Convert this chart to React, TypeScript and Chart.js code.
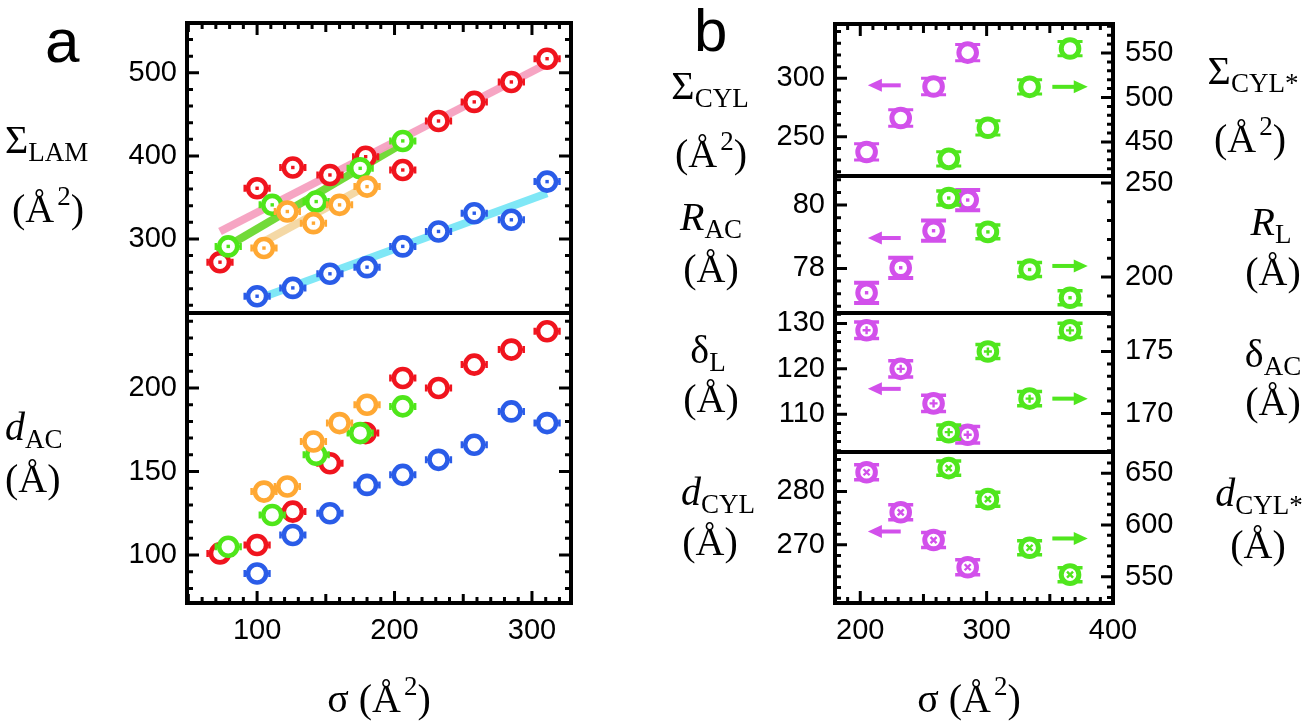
import React, { useEffect, useRef } from 'react';
import { Chart, registerables } from 'chart.js';

Chart.register(...registerables);

/* ---------------- panel a : x = sigma (Å²) ---------------- */
const aSigmaRed = [73, 100, 126, 153, 179, 206, 232, 258, 285, 311];
const aSigmaGreen = [79, 111, 143, 175, 206];
const aSigmaOrange = [105, 122, 141, 160, 180];
const aSigmaBlue = [100, 126, 153, 180, 206, 232, 258, 285, 311];

const sigmaLamRed = [272, 361, 386, 377, 399, 383, 442, 465, 489, 517];
const sigmaLamGreen = [291, 341, 345, 385, 418];
const sigmaLamOrange = [289, 333, 319, 341, 363];
const sigmaLamBlue = [231, 241, 258, 266, 291, 309, 331, 323, 369];

const dAcRed = [101, 106, 126, 155, 173, 206, 200, 214, 223, 234];
const dAcGreen = [105, 124, 160, 173, 189];
const dAcOrange = [138, 141, 168, 179, 190];
const dAcBlue = [89, 112, 125, 142, 148, 157, 166, 186, 179];

const sigmaErrA = 9;

const fitRedX = [73, 311];
const fitRedY = [309, 511];
const fitGreenX = [71, 210];
const fitGreenY = [284, 419];
const fitOrangeX = [103, 181];
const fitOrangeY = [295, 365];
const fitBlueX = [101, 311];
const fitBlueY = [228, 355];

const aXTicks = [100, 200, 300];
const sigmaLamTicks = [300, 400, 500];
const dAcTicks = [100, 150, 200];

/* ---------------- panel b ---------------- */
const bSigmaMag = [205, 232, 258, 285];
const bSigmaGreen = [270, 301, 334, 366];

const sigmaCylMag = [237, 266, 293, 322];
const sigmaCylStarGreen = [431, 466, 512, 555];
const rAcMag = [77.23, 78.02, 79.19, 80.16];
const rLGreen = [242, 224, 204, 189];
const deltaLMag = [128.5, 120, 112.4, 105.5];
const deltaAcGreen = [168.5, 175, 171.2, 176.7];
const dCylMag = [283.6, 276.1, 270.9, 265.8];
const dCylStarGreen = [655, 625, 578, 552];

const errMag = [7, 0.32, 1.8, 1.4];
const errGreen = [8, 3.7, 0.57, 6.8];

const arrowMagX = [206, 232];
const arrowGreenX = [352, 380];
const arrowMagY = [294, 78.96, 115.6, 272.5];
const arrowGreenY = [512, 205.9, 171.2, 587];

const bXTicks = [200, 300, 400];
const sigmaCylTicks = [250, 300];
const sigmaCylStarTicks = [450, 500, 550];
const rAcTicks = [78, 80];
const rLTicks = [200, 250];
const deltaLTicks = [110, 120, 130];
const deltaAcTicks = [170, 175];
const dCylTicks = [270, 280];
const dCylStarTicks = [550, 600, 650];

/* ---------------- styling ---------------- */
const RED = '#f0141e';
const GREEN = '#4fe61a';
const ORANGE = '#ffa833';
const BLUE = '#2a5ce8';
const MAG = '#d250eb';
const GREENB = '#50e61e';

const PAD_L = 100;
const PAD_T = 14;
const PAD_R = 14;
const PAD_R2 = 100;
const PAD_B = 14;
const PAD_BX = 70;

const TICK_FONT = { family: "'Liberation Sans', Arial, sans-serif", size: 29 };

type Mark = 'none' | 'dot' | 'plus' | 'x';
interface Series {
  x: number[]; y: number[]; color: string; axis: 'y' | 'y2';
  err: number; dir: 'x' | 'y'; mark: Mark; order: number;
  r: number; bw: number; capW: number; capT: number;
}
interface Fit { x: number[]; y: number[]; color: string; }
interface Arrow { x: number[]; y: number; color: string; axis: 'y' | 'y2'; dir: 'left' | 'right'; }
interface Axis { min: number; max: number; major: number[]; minor: number; mid?: number; }
interface Panel {
  frame: number[];
  x: Axis; y: Axis; y2?: Axis;
  xLabels: boolean; topTicks: boolean; bottomTicks: boolean;
  series: Series[]; fits: Fit[]; arrows: Arrow[];
}

const aSer = (x: number[], y: number[], color: string, order: number, mark: Mark): Series => ({
  x, y, color, axis: 'y', err: sigmaErrA, dir: 'x', mark, order, r: 9, bw: 4.6, capW: 7, capT: 2.5,
});
const bSer = (x: number[], y: number[], color: string, axis: 'y' | 'y2', err: number, order: number, mark: Mark, capT: number): Series => ({
  x, y, color, axis, err, dir: 'y', mark, order, r: 8.8, bw: 5, capW: 25, capT,
});

const AX_A: Axis = { min: 49, max: 328.4, major: aXTicks, minor: 10, mid: 50 };
const AX_B: Axis = { min: 180, max: 400, major: bXTicks, minor: 10, mid: 50 };

const PANELS: Panel[] = [
  {
    frame: [187, 23, 571, 313],
    x: AX_A,
    y: { min: 210.8, max: 560, major: sigmaLamTicks, minor: 20 },
    xLabels: false, topTicks: true, bottomTicks: false,
    fits: [
      { x: fitRedX, y: fitRedY, color: 'rgba(246,160,192,0.95)' },
      { x: fitGreenX, y: fitGreenY, color: 'rgba(106,216,46,0.95)' },
      { x: fitOrangeX, y: fitOrangeY, color: 'rgba(243,214,160,0.95)' },
      { x: fitBlueX, y: fitBlueY, color: 'rgba(120,230,245,0.95)' },
    ],
    series: [
      aSer(aSigmaOrange, sigmaLamOrange, ORANGE, 1, 'dot'),
      aSer(aSigmaGreen, sigmaLamGreen, GREEN, 2, 'dot'),
      aSer(aSigmaRed, sigmaLamRed, RED, 3, 'dot'),
      aSer(aSigmaBlue, sigmaLamBlue, BLUE, 4, 'dot'),
    ],
    arrows: [],
  },
  {
    frame: [187, 313, 571, 603],
    x: AX_A,
    y: { min: 71.3, max: 244.9, major: dAcTicks, minor: 10 },
    xLabels: true, topTicks: false, bottomTicks: true,
    fits: [],
    series: [
      aSer(aSigmaOrange, dAcOrange, ORANGE, 1, 'none'),
      aSer(aSigmaGreen, dAcGreen, GREEN, 2, 'none'),
      aSer(aSigmaRed, dAcRed, RED, 3, 'none'),
      aSer(aSigmaBlue, dAcBlue, BLUE, 4, 'none'),
    ],
    arrows: [],
  },
  {
    frame: [835, 24, 1113, 176],
    x: AX_B,
    y: { min: 216.4, max: 346.5, major: sigmaCylTicks, minor: 10 },
    y2: { min: 411.8, max: 582.6, major: sigmaCylStarTicks, minor: 10 },
    xLabels: false, topTicks: true, bottomTicks: false,
    fits: [],
    series: [
      bSer(bSigmaGreen, sigmaCylStarGreen, GREENB, 'y2', errGreen[0], 1, 'none', 3),
      bSer(bSigmaMag, sigmaCylMag, MAG, 'y', errMag[0], 2, 'none', 3),
    ],
    arrows: [
      { x: arrowMagX, y: arrowMagY[0], color: MAG, axis: 'y', dir: 'left' },
      { x: arrowGreenX, y: arrowGreenY[0], color: GREENB, axis: 'y2', dir: 'right' },
    ],
  },
  {
    frame: [835, 176, 1113, 313],
    x: AX_B,
    y: { min: 76.59, max: 80.92, major: rAcTicks, minor: 0.4 },
    y2: { min: 180.9, max: 253.7, major: rLTicks, minor: 10 },
    xLabels: false, topTicks: false, bottomTicks: false,
    fits: [],
    series: [
      bSer(bSigmaGreen, rLGreen, GREENB, 'y2', errGreen[1], 1, 'dot', 3.5),
      bSer(bSigmaMag, rAcMag, MAG, 'y', errMag[1], 2, 'dot', 4),
    ],
    arrows: [
      { x: arrowMagX, y: arrowMagY[1], color: MAG, axis: 'y', dir: 'left' },
      { x: arrowGreenX, y: arrowGreenY[1], color: GREENB, axis: 'y2', dir: 'right' },
    ],
  },
  {
    frame: [835, 313, 1113, 452],
    x: AX_B,
    y: { min: 101.7, max: 132.3, major: deltaLTicks, minor: 2 },
    y2: { min: 166.9, max: 178.1, major: deltaAcTicks, minor: 1 },
    xLabels: false, topTicks: false, bottomTicks: false,
    fits: [],
    series: [
      bSer(bSigmaGreen, deltaAcGreen, GREENB, 'y2', errGreen[2], 1, 'plus', 3.5),
      bSer(bSigmaMag, deltaLMag, MAG, 'y', errMag[2], 2, 'plus', 3.5),
    ],
    arrows: [
      { x: arrowMagX, y: arrowMagY[2], color: MAG, axis: 'y', dir: 'left' },
      { x: arrowGreenX, y: arrowGreenY[2], color: GREENB, axis: 'y2', dir: 'right' },
    ],
  },
  {
    frame: [835, 452, 1113, 603],
    x: AX_B,
    y: { min: 259.1, max: 287.4, major: dCylTicks, minor: 2 },
    y2: { min: 524.6, max: 670.6, major: dCylStarTicks, minor: 10 },
    xLabels: true, topTicks: false, bottomTicks: true,
    fits: [],
    series: [
      bSer(bSigmaGreen, dCylStarGreen, GREENB, 'y2', errGreen[3], 1, 'x', 3.5),
      bSer(bSigmaMag, dCylMag, MAG, 'y', errMag[3], 2, 'x', 3.5),
    ],
    arrows: [
      { x: arrowMagX, y: arrowMagY[3], color: MAG, axis: 'y', dir: 'left' },
      { x: arrowGreenX, y: arrowGreenY[3], color: GREENB, axis: 'y2', dir: 'right' },
    ],
  },
];

function tickList(ax: Axis) {
  const out: { v: number; len: number }[] = [];
  const base = ax.major[0];
  const eps = 1e-6;
  const k0 = Math.ceil((ax.min - base) / ax.minor - eps);
  const k1 = Math.floor((ax.max - base) / ax.minor + eps);
  for (let k = k0; k <= k1; k++) {
    const v = base + k * ax.minor;
    const isMajor = ax.major.some((m) => Math.abs(m - v) < 1e-6);
    let len = 6;
    if (isMajor) len = 12;
    else if (ax.mid) {
      const q = (v - base) / ax.mid;
      if (Math.abs(q - Math.round(q)) < 1e-6) len = 9;
    }
    out.push({ v, len });
  }
  ax.major.forEach((m) => {
    if (!out.some((o) => Math.abs(o.v - m) < 1e-6) && m >= ax.min && m <= ax.max) out.push({ v: m, len: 12 });
  });
  return out;
}

function SubPlot({ p }: { p: Panel }) {
  const ref = useRef<HTMLCanvasElement>(null);
  const [l, t, r, b] = p.frame;
  const padR = p.y2 ? PAD_R2 : PAD_R;
  const padB = p.xLabels ? PAD_BX : PAD_B;
  const w = r - l + PAD_L + padR;
  const h = b - t + PAD_T + padB;

  useEffect(() => {
    const canvas = ref.current!;
    const info: (Series | null)[] = [];
    const datasets: any[] = [];
    p.fits.forEach((f) => {
      datasets.push({
        data: f.x.map((v, i) => ({ x: v, y: f.y[i] })),
        showLine: true, borderColor: f.color, borderWidth: 8, borderCapStyle: 'butt',
        pointRadius: 0, pointHoverRadius: 0, order: 20, yAxisID: 'y',
      });
      info.push(null);
    });
    p.series.forEach((s) => {
      datasets.push({
        data: s.x.map((v, i) => ({ x: v, y: s.y[i] })),
        showLine: false, pointStyle: 'circle', pointRadius: s.r, pointHoverRadius: s.r,
        pointBorderWidth: s.bw, pointHoverBorderWidth: s.bw,
        borderColor: s.color, pointBorderColor: s.color,
        backgroundColor: '#ffffff', pointBackgroundColor: '#ffffff',
        order: s.order, yAxisID: s.axis, clip: false,
      });
      info.push(s);
    });

    const decor = {
      id: 'decor',
      beforeDatasetDraw(chart: any, args: any) {
        const s = info[args.index];
        if (!s) return;
        const ctx = chart.ctx;
        const xs = chart.scales.x;
        const ys = chart.scales[s.axis];
        ctx.save();
        ctx.strokeStyle = s.color;
        ctx.lineCap = 'butt';
        args.meta.data.forEach((el: any, i: number) => {
          if (s.dir === 'x') {
            const x0 = xs.getPixelForValue(s.x[i] - s.err);
            const x1 = xs.getPixelForValue(s.x[i] + s.err);
            ctx.lineWidth = s.capT;
            ctx.beginPath();
            ctx.moveTo(x0, el.y); ctx.lineTo(x1, el.y);
            ctx.moveTo(x0, el.y - s.capW / 2); ctx.lineTo(x0, el.y + s.capW / 2);
            ctx.moveTo(x1, el.y - s.capW / 2); ctx.lineTo(x1, el.y + s.capW / 2);
            ctx.stroke();
          } else {
            const y0 = ys.getPixelForValue(s.y[i] - s.err);
            const y1 = ys.getPixelForValue(s.y[i] + s.err);
            ctx.lineWidth = 2.5;
            ctx.beginPath();
            ctx.moveTo(el.x, y0); ctx.lineTo(el.x, y1);
            ctx.stroke();
            ctx.lineWidth = s.capT;
            ctx.beginPath();
            ctx.moveTo(el.x - s.capW / 2, y0); ctx.lineTo(el.x + s.capW / 2, y0);
            ctx.moveTo(el.x - s.capW / 2, y1); ctx.lineTo(el.x + s.capW / 2, y1);
            ctx.stroke();
          }
        });
        ctx.restore();
      },
      afterDatasetDraw(chart: any, args: any) {
        const s = info[args.index];
        if (!s || s.mark === 'none') return;
        const ctx = chart.ctx;
        ctx.save();
        ctx.fillStyle = s.color;
        ctx.strokeStyle = s.color;
        args.meta.data.forEach((el: any) => {
          if (s.mark === 'dot') {
            ctx.fillRect(el.x - 1.7, el.y - 1.7, 3.4, 3.4);
          } else if (s.mark === 'plus') {
            ctx.lineWidth = 2.4;
            ctx.beginPath();
            ctx.moveTo(el.x - 4, el.y); ctx.lineTo(el.x + 4, el.y);
            ctx.moveTo(el.x, el.y - 4); ctx.lineTo(el.x, el.y + 4);
            ctx.stroke();
          } else if (s.mark === 'x') {
            ctx.lineWidth = 2.4;
            ctx.beginPath();
            ctx.moveTo(el.x - 3, el.y - 3); ctx.lineTo(el.x + 3, el.y + 3);
            ctx.moveTo(el.x - 3, el.y + 3); ctx.lineTo(el.x + 3, el.y - 3);
            ctx.stroke();
          }
        });
        ctx.restore();
      },
      afterDatasetsDraw(chart: any) {
        const ctx = chart.ctx;
        const xs = chart.scales.x;
        p.arrows.forEach((a) => {
          const ys = chart.scales[a.axis];
          const y = ys.getPixelForValue(a.y);
          const xa = xs.getPixelForValue(a.x[0]);
          const xb = xs.getPixelForValue(a.x[1]);
          const tip = a.dir === 'left' ? xa : xb;
          const tail = a.dir === 'left' ? xb : xa;
          const sgn = a.dir === 'left' ? 1 : -1;
          const hl = 13, hw = 6.5, st = 4;
          const hb = tip + sgn * hl;
          ctx.save();
          ctx.fillStyle = a.color;
          ctx.fillRect(Math.min(hb, tail), y - st / 2, Math.abs(tail - hb), st);
          ctx.beginPath();
          ctx.moveTo(tip, y);
          ctx.lineTo(hb + sgn * 1, y - hw);
          ctx.lineTo(hb + sgn * 1, y + hw);
          ctx.closePath();
          ctx.fill();
          ctx.restore();
        });
      },
      afterDraw(chart: any) {
        const ctx = chart.ctx;
        const { left, right, top, bottom } = chart.chartArea;
        const xs = chart.scales.x;
        const ys = chart.scales.y;
        const y2s = chart.scales.y2;
        ctx.save();
        ctx.strokeStyle = '#000';
        ctx.lineWidth = 3;
        ctx.lineCap = 'butt';
        ctx.beginPath();
        tickList(p.y).forEach(({ v, len }) => {
          const py = ys.getPixelForValue(v);
          ctx.moveTo(left, py); ctx.lineTo(left + len, py);
          if (!p.y2) { ctx.moveTo(right, py); ctx.lineTo(right - len, py); }
        });
        if (p.y2) {
          tickList(p.y2).forEach(({ v, len }) => {
            const py = y2s.getPixelForValue(v);
            ctx.moveTo(right, py); ctx.lineTo(right - len, py);
          });
        }
        tickList(p.x).forEach(({ v, len }) => {
          const px = xs.getPixelForValue(v);
          if (p.topTicks) { ctx.moveTo(px, top); ctx.lineTo(px, top + len); }
          if (p.bottomTicks) { ctx.moveTo(px, bottom); ctx.lineTo(px, bottom - len); }
        });
        ctx.stroke();
        ctx.lineWidth = 4;
        ctx.strokeRect(left, top, right - left, bottom - top);
        ctx.restore();
      },
    };

    const fix = (vals: number[]) => (scale: any) => {
      scale.ticks = vals.map((v) => ({ value: v }));
    };
    const zeroPad = (scale: any) => {
      scale.paddingLeft = 0; scale.paddingRight = 0; scale.paddingTop = 0; scale.paddingBottom = 0;
    };
    const tickOpts = (padding: number) => ({
      font: TICK_FONT, color: '#000', padding, autoSkip: false, maxRotation: 0, minRotation: 0,
      callback: (v: any) => String(v),
    });

    const scales: any = {
      x: {
        type: 'linear', min: p.x.min, max: p.x.max, display: p.xLabels,
        grid: { display: false, drawTicks: false }, border: { display: false },
        ticks: tickOpts(11),
        afterBuildTicks: fix(p.x.major),
        afterFit: (s: any) => { s.height = p.xLabels ? padB : 0; zeroPad(s); },
      },
      y: {
        type: 'linear', position: 'left', min: p.y.min, max: p.y.max,
        grid: { display: false, drawTicks: false }, border: { display: false },
        ticks: tickOpts(10),
        afterBuildTicks: fix(p.y.major),
        afterFit: (s: any) => { s.width = PAD_L; zeroPad(s); },
      },
    };
    if (p.y2) {
      scales.y2 = {
        type: 'linear', position: 'right', min: p.y2.min, max: p.y2.max,
        grid: { display: false, drawTicks: false }, border: { display: false },
        ticks: tickOpts(12),
        afterBuildTicks: fix(p.y2.major),
        afterFit: (s: any) => { s.width = padR; zeroPad(s); },
      };
    }

    const chart = new Chart(canvas, {
      type: 'scatter',
      data: { datasets },
      options: {
        animation: false,
        responsive: false,
        maintainAspectRatio: false,
        devicePixelRatio: 1,
        events: [],
        layout: {
          padding: {
            left: 0,
            top: PAD_T,
            right: p.y2 ? 0 : padR,
            bottom: p.xLabels ? 0 : padB,
          },
        },
        plugins: { legend: { display: false }, tooltip: { enabled: false } },
        scales,
      } as any,
      plugins: [decor as any],
    });
    return () => chart.destroy();
  }, []);

  return (
    <canvas
      ref={ref}
      width={w}
      height={h}
      style={{ position: 'absolute', left: l - PAD_L, top: t - PAD_T, width: w, height: h }}
    />
  );
}

const SERIF = "'Liberation Serif', 'Times New Roman', serif";
const SANS = "'Liberation Sans', Arial, sans-serif";
const FS = 40;
const FSS = 27;

function Unit({ x, y, anchor, sq }: { x: number; y: number; anchor: string; sq?: boolean }) {
  return (
    <text x={x} y={y} textAnchor={anchor} fontFamily={SERIF} fontSize={FS}>
      (Å
      {sq ? (
        <>
          <tspan fontSize={FSS} dy={-17} dx={3}>2</tspan>
          <tspan dy={17}>)</tspan>
        </>
      ) : (
        <tspan>)</tspan>
      )}
    </text>
  );
}

function Sym({ x, y, anchor, main, sub, italic }: { x: number; y: number; anchor: string; main: string; sub: string; italic?: boolean }) {
  return (
    <text x={x} y={y} textAnchor={anchor} fontFamily={SERIF} fontSize={FS}>
      <tspan fontStyle={italic ? 'italic' : 'normal'}>{main}</tspan>
      <tspan fontSize={FSS} dy={8}>{sub}</tspan>
    </text>
  );
}

export default function App() {
  return (
    <div style={{ position: 'absolute', left: 0, top: 0, width: 1304, height: 725, background: '#fff', overflow: 'hidden' }}>
      {PANELS.map((p, i) => (
        <SubPlot key={i} p={p} />
      ))}
      <svg width={1304} height={725} style={{ position: 'absolute', left: 0, top: 0, pointerEvents: 'none' }}>
        <text x={45} y={62} fontFamily={SANS} fontSize={62}>a</text>
        <text x={694} y={51} fontFamily={SANS} fontSize={60}>b</text>

        <Sym x={5} y={153} anchor="start" main="Σ" sub="LAM" />
        <Unit x={12} y={222} anchor="start" sq />
        <Sym x={5} y={440} anchor="start" main="d" sub="AC" italic />
        <Unit x={5} y={492} anchor="start" />

        <Sym x={710} y={99} anchor="middle" main="Σ" sub="CYL" />
        <Unit x={711} y={167} anchor="middle" sq />
        <Sym x={711} y={230} anchor="middle" main="R" sub="AC" italic />
        <Unit x={711} y={282} anchor="middle" />
        <Sym x={708} y={363} anchor="middle" main="δ" sub="L" />
        <Unit x={711} y={412} anchor="middle" />
        <Sym x={718} y={505} anchor="middle" main="d" sub="CYL" italic />
        <Unit x={710} y={555} anchor="middle" />

        <Sym x={1253} y={84} anchor="middle" main="Σ" sub="CYL*" />
        <Unit x={1250} y={152} anchor="middle" sq />
        <Sym x={1271} y={235} anchor="middle" main="R" sub="L" italic />
        <Unit x={1273} y={285} anchor="middle" />
        <Sym x={1273} y={367} anchor="middle" main="δ" sub="AC" />
        <Unit x={1273} y={415} anchor="middle" />
        <Sym x={1259} y={506} anchor="middle" main="d" sub="CYL*" italic />
        <Unit x={1258} y={558} anchor="middle" />

        <text x={379} y={712} textAnchor="middle" fontFamily={SERIF} fontSize={FS}>
          σ (Å<tspan fontSize={FSS} dy={-17} dx={3}>2</tspan><tspan dy={17}>)</tspan>
        </text>
        <text x={969} y={712} textAnchor="middle" fontFamily={SERIF} fontSize={FS}>
          σ (Å<tspan fontSize={FSS} dy={-17} dx={3}>2</tspan><tspan dy={17}>)</tspan>
        </text>
      </svg>
    </div>
  );
}
